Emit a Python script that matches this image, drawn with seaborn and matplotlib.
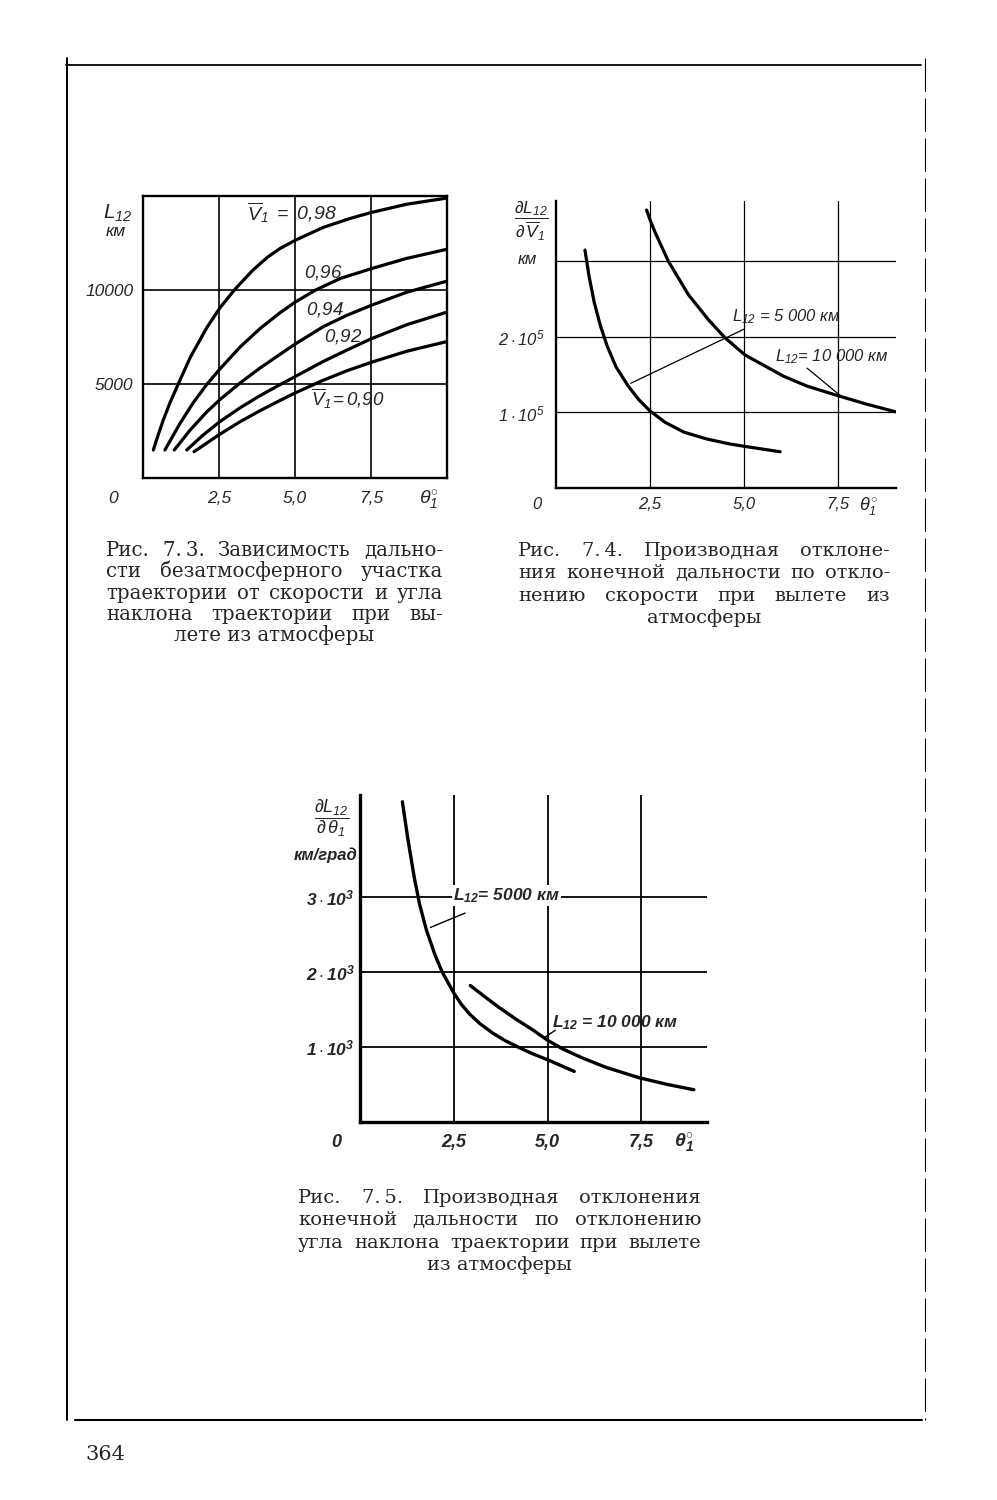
import numpy as np
import pandas as pd
import matplotlib
matplotlib.use("Agg")
import matplotlib.pyplot as plt
import seaborn as sns
from matplotlib import font_manager
from matplotlib.lines import Line2D

# ---------------- data ----------------
# Fig 7.3: L12 (km) vs theta1 (deg) for several V1
TH_098 = [0.34, 0.50, 0.67, 0.90, 1.16, 1.55, 2.10, 2.53, 3.03, 3.61, 4.10, 4.50, 5.00, 5.93, 6.80, 7.50, 8.67, 9.95]
L_098 = [1490, 2300, 3100, 4050, 5000, 6400, 8000, 9050, 10050, 11050, 11750, 12200, 12640, 13330, 13800, 14120, 14560, 14880]
TH_096 = [0.72, 1.22, 1.65, 2.10, 2.53, 3.19, 3.85, 4.50, 5.00, 5.68, 6.50, 7.50, 8.67, 9.95]
L_096 = [1490, 2910, 4000, 4980, 5800, 6960, 7950, 8780, 9350, 10000, 10620, 11130, 11680, 12150]
TH_094 = [1.03, 1.55, 2.10, 2.53, 3.19, 3.85, 4.50, 5.00, 5.93, 6.70, 7.50, 8.67, 9.95]
L_094 = [1490, 2550, 3520, 4170, 5050, 5850, 6570, 7120, 8050, 8650, 9180, 9880, 10450]
TH_092 = [1.44, 1.98, 2.53, 3.19, 3.85, 4.50, 5.00, 5.93, 6.70, 7.50, 8.67, 9.95]
L_092 = [1490, 2290, 3000, 3730, 4380, 4960, 5390, 6200, 6800, 7400, 8150, 8800]
TH_090 = [1.68, 2.10, 2.53, 3.19, 3.85, 4.50, 5.00, 5.90, 6.70, 7.50, 8.67, 9.95]
L_090 = [1400, 1860, 2330, 2990, 3580, 4120, 4520, 5180, 5700, 6150, 6740, 7240]

# Fig 7.4: dL12/dV1 (km) vs theta1
TH4_5000 = [0.77, 0.88, 1.02, 1.18, 1.36, 1.60, 1.92, 2.20, 2.50, 2.90, 3.40, 4.00, 4.60, 5.03, 5.96]
DV_5000 = [315000, 280000, 245000, 215000, 188000, 160000, 135000, 117000, 102000, 87000, 74000, 65000, 58500, 55000, 48000]
TH4_10000 = [2.41, 2.50, 2.63, 2.99, 3.52, 4.05, 4.49, 5.03, 6.05, 6.67, 7.51, 8.26, 9.02]
DV_10000 = [368000, 355000, 339000, 300000, 256000, 223000, 199000, 176000, 148000, 135000, 122000, 111000, 101000]

# Fig 7.5: dL12/dtheta1 (km/deg) vs theta1
TH5_5000 = [1.13, 1.28, 1.45, 1.59, 1.77, 1.99, 2.19, 2.50, 2.70, 2.92, 3.20, 3.54, 3.85, 4.25, 4.60, 5.00, 5.71]
DT_5000 = [4270, 3760, 3250, 2900, 2560, 2240, 2000, 1720, 1570, 1440, 1310, 1185, 1090, 990, 910, 830, 675]
TH5_10000 = [2.94, 3.30, 3.70, 4.16, 4.60, 5.00, 5.40, 5.90, 6.55, 7.44, 8.20, 8.90]
DT_10000 = [1820, 1680, 1530, 1370, 1230, 1090, 975, 860, 730, 590, 500, 430]

X_TICKS = [2.5, 5.0, 7.5]
X_TICKLABELS = ["2,5", "5,0", "7,5"]
Y1_TICKS = [5000, 10000]
Y1_TICKLABELS = ["5000", "10000"]
Y2_TICKS = [100000, 200000, 300000]
Y2_TICKLABELS = [r"$1\cdot10^{5}$", r"$2\cdot10^{5}$", ""]
Y3_TICKS = [1000, 2000, 3000]
Y3_TICKLABELS = [r"$\mathbf{1\cdot10^{3}}$", r"$\mathbf{2\cdot10^{3}}$", r"$\mathbf{3\cdot10^{3}}$"]

CAP73 = ["Рис. 7.\u20093. Зависимость дально-", "сти безатмосферного участка",
         "траектории от скорости и угла", "наклона траектории при вы-",
         "лете из атмосферы"]
CAP74 = ["Рис. 7.\u20094. Производная отклоне-", "ния конечной дальности по откло-",
         "нению скорости при вылете из", "атмосферы"]
CAP75 = ["Рис. 7.\u20095. Производная отклонения", "конечной дальности по отклонению",
         "угла наклона траектории при вылете", "из атмосферы"]
PAGE_NO = "364"

# ---------------- style ----------------
W, H = 997, 1500
sns.set_style("white")
names = {f.name for f in font_manager.fontManager.ttflist}
NARROW = "Liberation Sans Narrow" if "Liberation Sans Narrow" in names else "Liberation Sans"
SERIF = "DejaVu Serif"
plt.rcParams["font.family"] = [NARROW, "DejaVu Sans"]
plt.rcParams["font.style"] = "italic"
plt.rcParams["mathtext.fontset"] = "custom"
plt.rcParams["mathtext.rm"] = NARROW + ":italic"
plt.rcParams["mathtext.it"] = NARROW + ":italic"
plt.rcParams["mathtext.bf"] = NARROW + ":italic:bold"
plt.rcParams["mathtext.sf"] = NARROW + ":italic"

fig = plt.figure(figsize=(W / 100, H / 100), dpi=100, facecolor="white")
renderer = fig.canvas.get_renderer()


def px_axes(left, top, right, bottom):
    return fig.add_axes([left / W, 1 - bottom / H, (right - left) / W, (bottom - top) / H])


def ftext(x, y, s, **kw):
    return fig.text(x / W, 1 - y / H, s, **kw)


def draw_curves(ax, curves, lw):
    frames = [pd.DataFrame({"x": xs, "y": ys, "curve": n}) for n, (xs, ys) in curves.items()]
    df = pd.concat(frames, ignore_index=True)
    sns.lineplot(data=df, x="x", y="y", hue="curve", units="curve",
                 palette={n: "black" for n in curves}, estimator=None, sort=False,
                 legend=False, linewidth=lw, ax=ax)
    for ln in ax.get_lines():
        ln.set_solid_capstyle("round")
        ln.set_solid_joinstyle("round")
    ax.set_xlabel("")
    ax.set_ylabel("")


def extra_xlabel(ax, x, s, pad_px, **kw):
    ax.annotate(s, xy=(x, 0), xycoords=("data", "axes fraction"), xytext=(0, -pad_px),
                textcoords="offset pixels", ha="center", va="top", annotation_clip=False, **kw)


# ---------------- Fig 7.3 ----------------
ax1 = px_axes(143, 196, 447, 478)
draw_curves(ax1, {"0,98": (TH_098, L_098), "0,96": (TH_096, L_096), "0,94": (TH_094, L_094),
                  "0,92": (TH_092, L_092), "0,90": (TH_090, L_090)}, 2.3)
ax1.set_xlim(0, 10)
ax1.set_ylim(0, 15000)
ax1.set_xticks(X_TICKS)
ax1.set_xticklabels(X_TICKLABELS)
ax1.set_yticks(Y1_TICKS)
ax1.set_yticklabels(Y1_TICKLABELS)
ax1.grid(True, color="black", lw=1.2)
ax1.tick_params(axis="x", length=0, pad=9.5, labelsize=12.5)
ax1.tick_params(axis="y", length=3, width=1.2, pad=4, labelsize=12.5, direction="out")
for s in ax1.spines.values():
    s.set_color("black")
    s.set_linewidth(1.7)
extra_xlabel(ax1, -1.0, "0", 13, fontsize=12.5)
extra_xlabel(ax1, 9.4, r"$\theta_1^{\circ}$", 11, fontsize=14)
ax1.text(3.42, 14136, r"$\overline{V}_1\ =\ 0{,}98$", fontsize=14, va="center", ha="left")
ax1.text(5.28, 10950, r"$0{,}96$", fontsize=13.5, va="center", ha="left")
ax1.text(5.37, 8960, r"$0{,}94$", fontsize=13.5, va="center", ha="left")
ax1.text(5.97, 7500, r"$0{,}92$", fontsize=13.5, va="center", ha="left")
ax1.text(5.53, 4220, r"$\overline{V}_1\!=0{,}90$", fontsize=13.5, va="center", ha="left")
ftext(118, 213, r"$L_{12}$", fontsize=15, ha="center", va="center")
ftext(116, 232, "км", fontsize=12.5, ha="center", va="center")

# ---------------- Fig 7.4 ----------------
ax2 = px_axes(556, 201, 896, 488)
draw_curves(ax2, {"5000": (TH4_5000, DV_5000), "10000": (TH4_10000, DV_10000)}, 2.3)
ax2.set_xlim(0, 9.04)
ax2.set_ylim(0, 380000)
ax2.set_xticks(X_TICKS)
ax2.set_xticklabels(X_TICKLABELS)
ax2.set_yticks(Y2_TICKS)
ax2.set_yticklabels(Y2_TICKLABELS)
ax2.grid(True, color="black", lw=0.9)
ax2.tick_params(axis="x", length=0, pad=6.5, labelsize=12)
ax2.tick_params(axis="y", length=0, pad=8, labelsize=12)
for k in ("top", "right"):
    ax2.spines[k].set_visible(False)
for k in ("left", "bottom"):
    ax2.spines[k].set_color("black")
    ax2.spines[k].set_linewidth(1.7)
extra_xlabel(ax2, -0.5, "0", 9, fontsize=12)
extra_xlabel(ax2, 8.3, r"$\theta_1^{\circ}$", 7, fontsize=13)
ax2.text(4.67, 227000, r"$L_{12}$" + " = 5 000 км", fontsize=12, va="center", ha="left")
ax2.annotate("", xy=(1.92, 137000), xytext=(5.07, 212000),
             arrowprops=dict(arrowstyle="-", lw=0.9, color="black"))
ax2.text(5.82, 174000, r"$L_{12}$" + "= 10 000 км", fontsize=12, va="center", ha="left")
ax2.annotate("", xy=(7.64, 119000), xytext=(6.62, 161000),
             arrowprops=dict(arrowstyle="-", lw=0.9, color="black"))
ftext(531, 221, r"$\dfrac{\partial L_{12}}{\partial\, \overline{V}_1}$", fontsize=12.5, ha="center", va="center")
ftext(527, 260, "км", fontsize=12, ha="center", va="center")

# ---------------- Fig 7.5 ----------------
ax3 = px_axes(360, 795, 707, 1122)
draw_curves(ax3, {"5000": (TH5_5000, DT_5000), "10000": (TH5_10000, DT_10000)}, 2.4)
ax3.set_xlim(0, 9.25)
ax3.set_ylim(0, 4360)
ax3.set_xticks(X_TICKS)
ax3.set_xticklabels(X_TICKLABELS)
ax3.set_yticks(Y3_TICKS)
ax3.set_yticklabels(Y3_TICKLABELS)
ax3.grid(True, color="black", lw=1.3)
ax3.tick_params(axis="x", length=0, pad=8.5, labelsize=13)
ax3.tick_params(axis="y", length=0, pad=4, labelsize=12.5)
for lab in ax3.get_xticklabels():
    lab.set_fontweight("bold")
for k in ("top", "right"):
    ax3.spines[k].set_visible(False)
for k in ("left", "bottom"):
    ax3.spines[k].set_color("black")
    ax3.spines[k].set_linewidth(2.4)
extra_xlabel(ax3, -0.62, "0", 12, fontsize=13, fontweight="bold")
extra_xlabel(ax3, 8.63, r"$\mathbf{\theta_1^{\circ}}$", 10, fontsize=14)
ax3.text(2.48, 3020, r"$\mathbf{L_{12}}$" + "= 5000 км", fontsize=12.5, fontweight="bold",
         va="center", ha="left", bbox=dict(facecolor="white", edgecolor="none", pad=1.0))
ax3.annotate("", xy=(1.81, 2580), xytext=(2.87, 2800),
             arrowprops=dict(arrowstyle="-", lw=1.0, color="black"))
ax3.text(5.13, 1330, r"$\mathbf{L_{12}}$" + " = 10 000 км", fontsize=12.5, fontweight="bold",
         va="center", ha="left")
ax3.annotate("", xy=(4.87, 1110), xytext=(5.27, 1245),
             arrowprops=dict(arrowstyle="-", lw=1.0, color="black"))
ftext(332, 818, r"$\dfrac{\partial L_{12}}{\partial\, \theta_1}$", fontsize=13, ha="center", va="center")
ftext(326, 855, "км/град", fontsize=12, fontweight="bold", ha="center", va="center")


# ---------------- captions ----------------
def caption(lines, x0, x1, base0, dy, maxsize=15.0):
    probe = fig.text(0, 0, "", family=SERIF, fontstyle="normal", fontsize=10)

    def width(s, sz):
        probe.set_text(s)
        probe.set_fontsize(sz)
        return probe.get_window_extent(renderer).width

    natural = max(width(l, 10) for l in lines[:-1])
    size = min(maxsize, 10 * (x1 - x0) * 0.96 / natural)
    probe.remove()
    for i, line in enumerate(lines):
        y = base0 + i * dy
        if i == len(lines) - 1:
            ftext((x0 + x1) / 2, y, line, family=SERIF, fontstyle="normal", fontsize=size,
                  ha="center", va="baseline")
            continue
        words = line.split(" ")
        ts = [ftext(0, 0, w, family=SERIF, fontstyle="normal", fontsize=size, va="baseline")
              for w in words]
        ws = [t.get_window_extent(renderer).width for t in ts]
        gap = (x1 - x0 - sum(ws)) / max(len(words) - 1, 1)
        x = x0
        for t, w in zip(ts, ws):
            t.set_position((x / W, 1 - y / H))
            x += w + gap


caption(CAP73, 106, 443, 556, 21.3)
caption(CAP74, 518, 890, 556, 22.3)
caption(CAP75, 298, 701, 1203, 22.3)
ftext(85, 1460, PAGE_NO, family=SERIF, fontstyle="normal", fontsize=15, ha="left", va="baseline")

# ---------------- page frame ----------------
def fline(x0, y0, x1, y1, **kw):
    fig.add_artist(Line2D([x0 / W, x1 / W], [1 - y0 / H, 1 - y1 / H], color="black", **kw))

fline(66, 65, 921, 65, lw=1.3)
fline(67, 58, 67, 1420, lw=1.4)
fline(75, 1420, 922, 1420, lw=1.5)
fline(925, 58, 925, 1420, lw=0.8, linestyle=(0, (30, 6)))

fig.savefig("out.png", dpi=100, facecolor="white")
